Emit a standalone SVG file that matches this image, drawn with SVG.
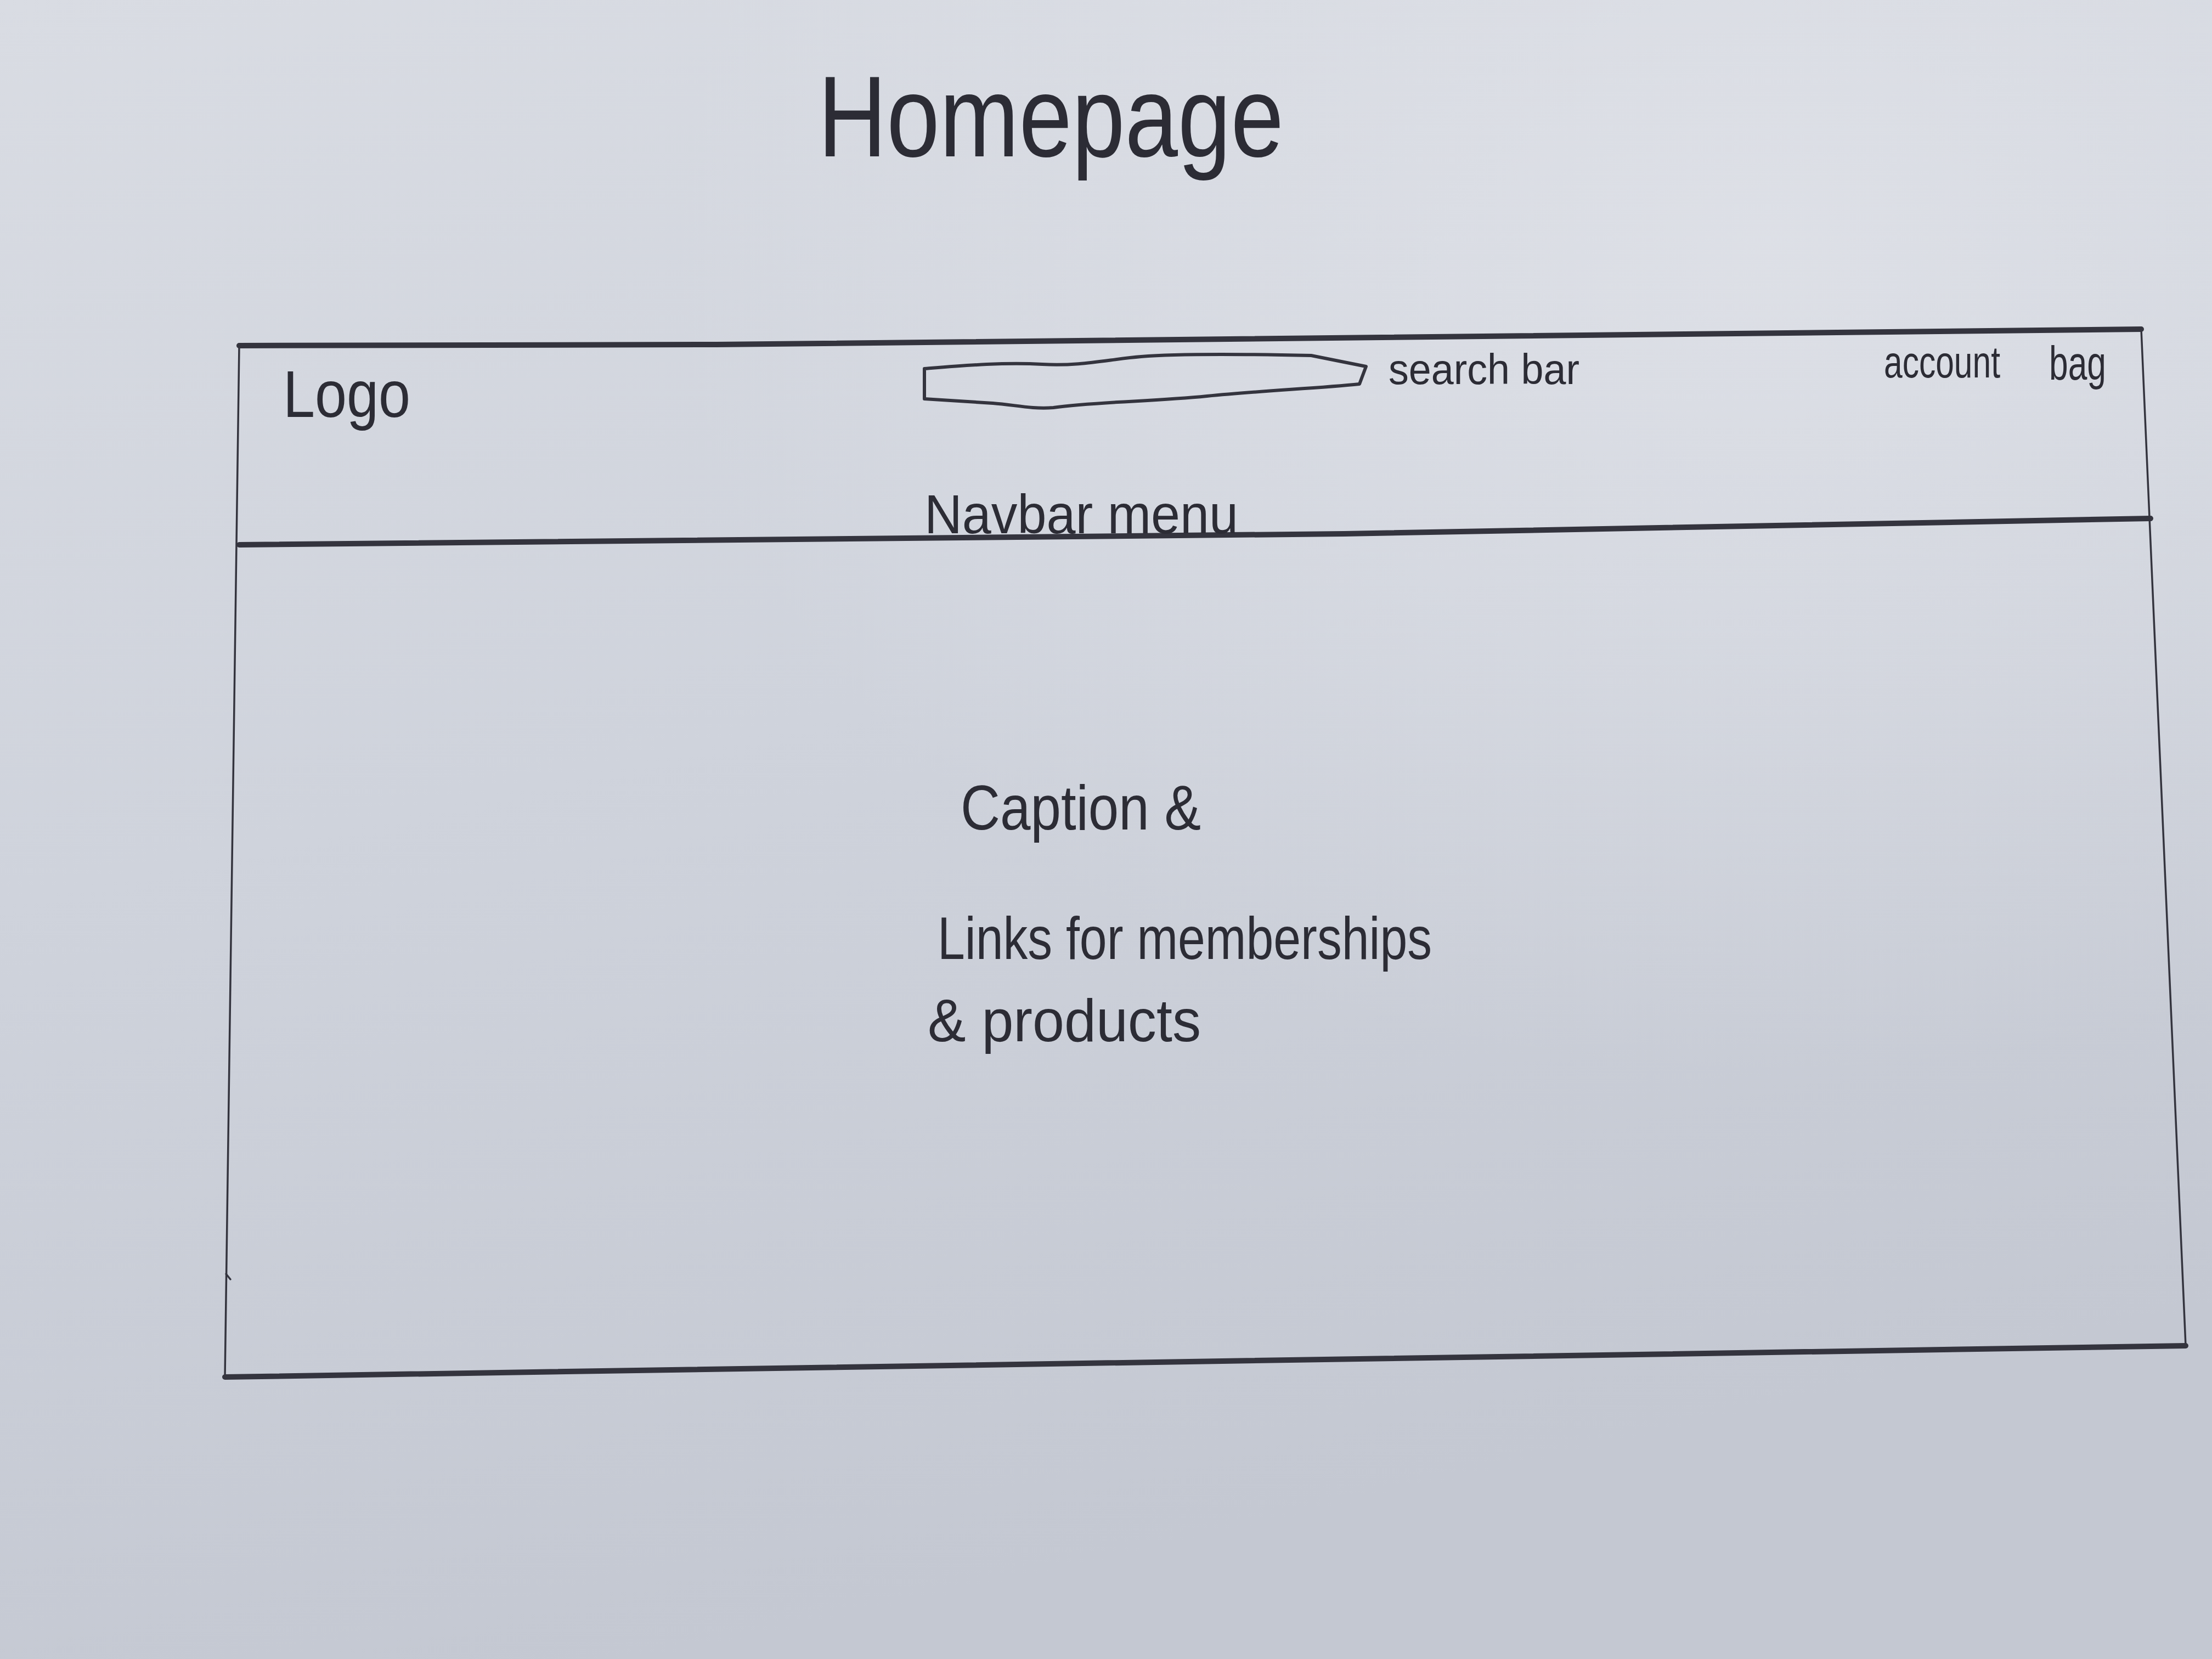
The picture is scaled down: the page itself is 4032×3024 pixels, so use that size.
<svg xmlns="http://www.w3.org/2000/svg" width="4032" height="3024" viewBox="0 0 4032 3024">
  <defs>
    <linearGradient id="paper" x1="0" y1="0" x2="0.3" y2="1">
      <stop offset="0" stop-color="#d9dce3"/>
      <stop offset="0.5" stop-color="#cfd3dc"/>
      <stop offset="1" stop-color="#c4c8d2"/>
    </linearGradient>
    <radialGradient id="glow" cx="0.8" cy="0.15" r="0.5">
      <stop offset="0" stop-color="#e2e4ea" stop-opacity="0.7"/>
      <stop offset="1" stop-color="#e2e4ea" stop-opacity="0"/>
    </radialGradient>
  </defs>
  <style>
    .pen { fill: none; stroke: #34343e; stroke-linecap: round; stroke-linejoin: round; }
    .thick { stroke-width: 10; }
    .thin { stroke-width: 3.5; }
    .hand { font-family: "Liberation Sans", "DejaVu Sans", sans-serif; fill: #2c2c35; }
  </style>
  <rect x="0" y="0" width="4032" height="3024" fill="url(#paper)"/>
  <rect x="0" y="0" width="4032" height="3024" fill="url(#glow)"/>

  <g id="title">
    <text class="hand" x="1491" y="285" font-size="210" textLength="849" lengthAdjust="spacingAndGlyphs">Homepage</text>
  </g>

  <g id="frame">
    <polyline class="pen thick" points="436,630 1306,628 3903,600"/>
    <line class="pen thin" x1="436" y1="630" x2="410" y2="2510"/>
    <line class="pen thin" x1="3903" y1="600" x2="3984" y2="2453"/>
    <line class="pen thick" x1="410" y1="2510" x2="3984" y2="2453" stroke-width="12"/>
    <line class="pen thin" x1="412" y1="2322" x2="420" y2="2332"/>
  </g>

  <g id="header">
    <polyline class="pen thick" points="436,993 2450,973 3920,945"/>
  </g>

  <g id="logo">
    <text class="hand" x="516" y="760" font-size="120" textLength="232" lengthAdjust="spacingAndGlyphs">Logo</text>
  </g>

  <g id="search-bar">
    <path class="pen" stroke-width="6" d="M1685,672 C1760,666 1830,660 1900,664 S2020,655 2080,650 S2250,645 2390,648 L2490,668 L2478,700 C2400,708 2300,712 2200,722 S2000,732 1920,743 C1880,746 1850,738 1810,735 L1685,727 Z"/>
    <text class="hand" x="2531" y="700" font-size="78" textLength="348" lengthAdjust="spacingAndGlyphs">search bar</text>
  </g>

  <g id="account">
    <text class="hand" x="3434" y="688" font-size="82" textLength="212" lengthAdjust="spacingAndGlyphs">account</text>
  </g>

  <g id="bag">
    <text class="hand" x="3735" y="692" font-size="88" textLength="104" lengthAdjust="spacingAndGlyphs">bag</text>
  </g>

  <g id="navbar-menu">
    <text class="hand" x="1685" y="972" font-size="100" textLength="572" lengthAdjust="spacingAndGlyphs">Navbar menu</text>
  </g>

  <g id="hero">
    <text class="hand" x="1751" y="1512" font-size="115" textLength="438" lengthAdjust="spacingAndGlyphs">Caption &amp;</text>
    <text class="hand" x="1709" y="1748" font-size="110" textLength="901" lengthAdjust="spacingAndGlyphs">Links for memberships</text>
    <text class="hand" x="1691" y="1898" font-size="110" textLength="498" lengthAdjust="spacingAndGlyphs">&amp; products</text>
  </g>
</svg>
